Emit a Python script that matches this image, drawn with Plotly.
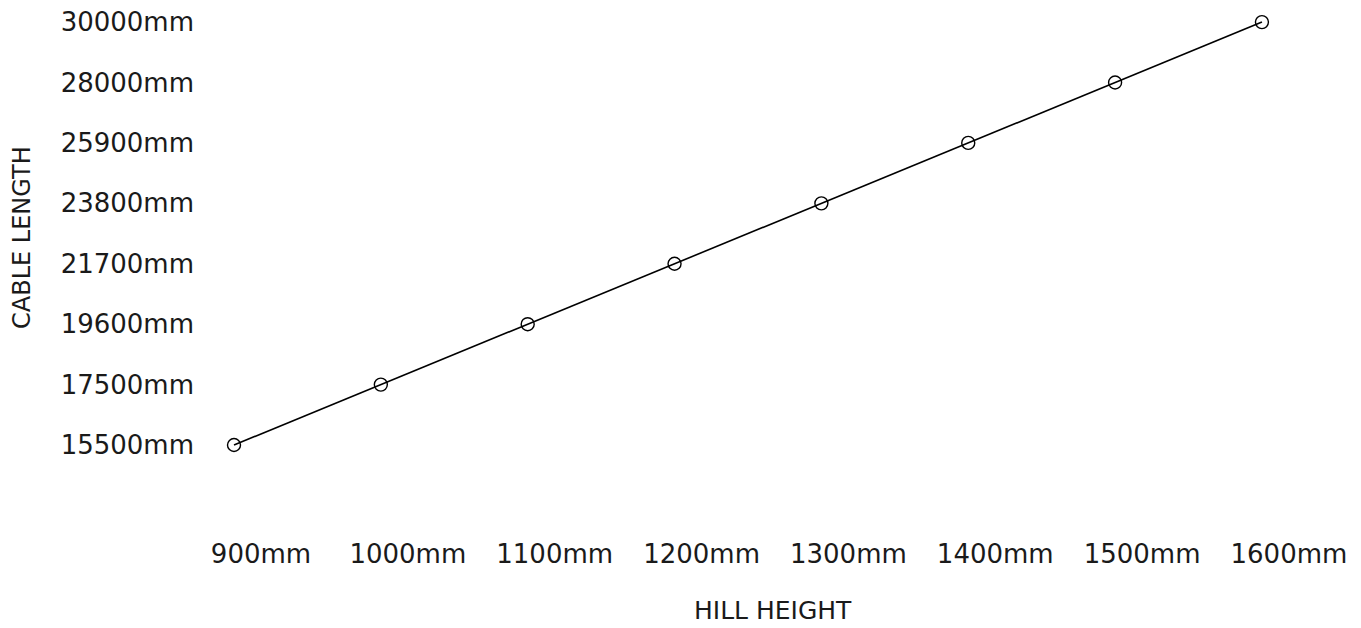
import plotly.graph_objects as go

# hill height (mm) vs cable length (mm)
hill_height = [900, 1000, 1100, 1200, 1300, 1400, 1500, 1600]
cable_length = [15500, 17500, 19600, 21700, 23800, 25900, 28000, 30000]

x_labels = [f"{v}mm" for v in hill_height]
y_labels = [f"{v}mm" for v in cable_length]

FONT = "DejaVu Sans"
INK = "#1a1a1a"

fig = go.Figure(
    go.Scatter(
        x=hill_height,
        y=y_labels,
        mode="lines+markers",
        line={"color": "black", "width": 1.6},
        marker={"symbol": "circle-open", "size": 13, "color": "black",
                "line": {"width": 1.4, "color": "black"}},
        hoverinfo="skip",
        showlegend=False,
    )
)

# page body has an 8px margin, so the figure is a bit smaller than the window
fig.update_layout(
    width=1353, height=620,
    margin={"l": 192, "r": 60, "t": 2, "b": 128, "autoexpand": False},
    paper_bgcolor="white", plot_bgcolor="white",
    font={"family": FONT, "size": 26, "color": INK},
    annotations=[
        {"text": "HILL HEIGHT", "xref": "paper", "yref": "paper",
         "x": 0.5204, "y": -0.2245, "showarrow": False,
         "xanchor": "center", "yanchor": "middle",
         "font": {"family": FONT, "size": 25, "color": INK}},
        {"text": "CABLE LENGTH", "xref": "paper", "yref": "paper",
         "x": -0.1617, "y": 0.5367, "showarrow": False, "textangle": -90,
         "xanchor": "center", "yanchor": "middle",
         "font": {"family": FONT, "size": 24, "color": INK}},
    ],
)

fig.update_xaxes(
    range=[876.85, 1626.6], automargin=False,
    tickvals=hill_height, ticktext=x_labels,
    showgrid=False, zeroline=False, showline=False, ticks="",
    ticklabelshift=27, ticklabelstandoff=36,
)
fig.update_yaxes(
    type="category", categoryorder="array", categoryarray=y_labels,
    range=[-0.91, 7.2], automargin=False,
    showgrid=False, zeroline=False, showline=False, ticks="",
    ticklabelstandoff=5,
)

fig.write_html("out.html")
